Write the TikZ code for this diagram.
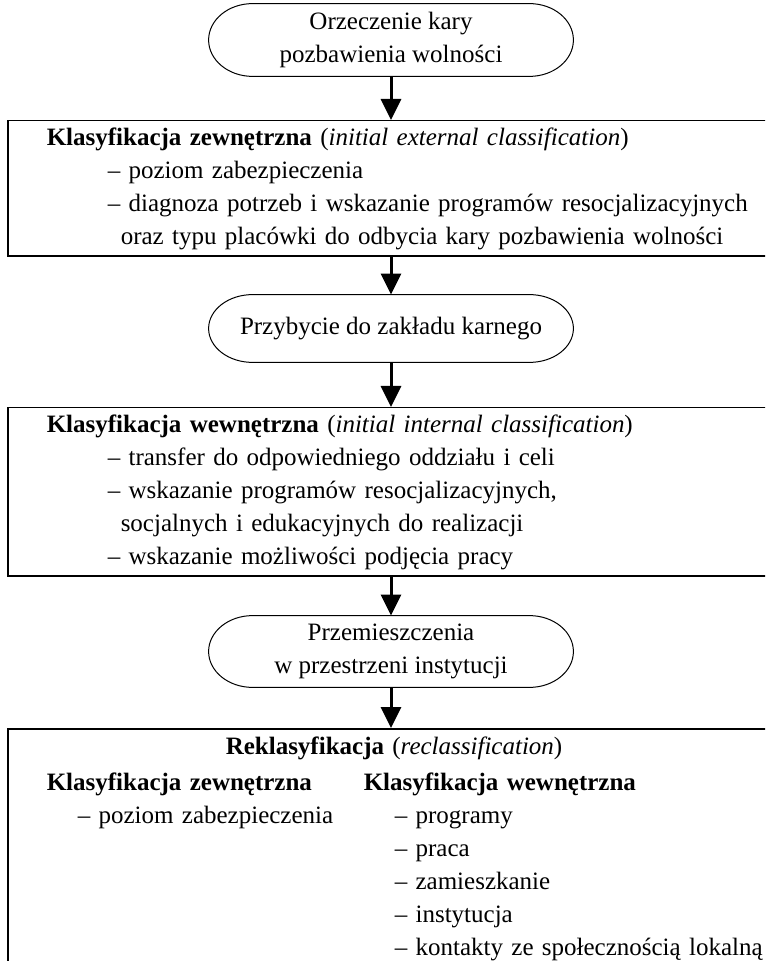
\documentclass[tikz,border=0pt]{standalone}
\usepackage{fontspec}
\setmainfont{Liberation Serif}
\usepackage{tikz}
\usetikzlibrary{calc, arrows.meta}

\newcommand{\dashitem}[1]{\hspace*{30.5pt}– #1}
\newcommand{\dashcont}[1]{\hspace*{37pt}#1}
\newcommand{\colitem}[1]{\hspace*{15.5pt}– #1}
% Oval outline with half-elliptic ends round a node
\newcommand{\capsuleline}[1]{%
  \draw[line width=0.5pt] let \p1=(#1.north), \p2=(#1.south), \n1={(\y1-\y2)/2} in
    ([xshift=22pt]#1.north west) -- ([xshift=-22pt]#1.north east)
    arc[start angle=90, end angle=-90, x radius=22pt, y radius=\n1]
    -- ([xshift=22pt]#1.south west)
    arc[start angle=270, end angle=90, x radius=22pt, y radius=\n1] -- cycle;}

\begin{document}
\begin{tikzpicture}[x=0.5pt, y=0.5pt,
    font=\fontsize{12.5}{16.5}\selectfont,
    capsule/.style={rectangle, minimum width=182pt, minimum height=36pt,
      align=center, inner sep=2pt},
    stagebox/.style={draw, line width=0.75pt, rectangle, anchor=north west,
      text width=360pt, inner xsep=19.5pt, align=left},
    flow/.style={-{Triangle[width=10pt,length=10.5pt]}, line width=1.5pt}]

    % Page frame, cropped on the right and at the bottom
    \useasboundingbox (0,0) rectangle (765,-961);
    \clip (0,0) rectangle (765,-961);

    % Sentence
    \node[capsule] (sentence) at (391,-40) {Orzeczenie kary\\pozbawienia wolności};
    \capsuleline{sentence}

    % External classification
    \node[stagebox, minimum height=67.5pt] (extcls) at (7,-120) {%
      \textbf{Klasyfikacja zewnętrzna} (\textit{initial external classification})\\
      \dashitem{poziom zabezpieczenia}\\
      \dashitem{diagnoza potrzeb i wskazanie programów resocjalizacyjnych}\\
      \dashcont{oraz typu placówki do odbycia kary pozbawienia wolności}};

    % Arrival
    \node[capsule, minimum height=33.5pt] (arrival) at (391,-328.5) {Przybycie do zakładu karnego};
    \capsuleline{arrival}

    % Internal classification
    \node[stagebox, minimum height=84pt] (intcls) at (7,-407) {%
      \textbf{Klasyfikacja wewnętrzna} (\textit{initial internal classification})\\
      \dashitem{transfer do odpowiedniego oddziału i celi}\\
      \dashitem{wskazanie programów resocjalizacyjnych,}\\
      \dashcont{socjalnych i edukacyjnych do realizacji}\\
      \dashitem{wskazanie możliwości podjęcia pracy}};

    % Movements
    \node[capsule, minimum height=35.5pt] (moves) at (391,-651.5) {Przemieszczenia\\w przestrzeni instytucji};
    \capsuleline{moves}

    % Reclassification
    \node[stagebox, minimum height=122pt] (recls) at (7,-728) {%
      \hspace*{89.5pt}\textbf{Reklasyfikacja} (\textit{reclassification})\\[1.5pt]
      \begin{tabular}[t]{@{}p{158.5pt}@{}l@{}}
        \textbf{Klasyfikacja zewnętrzna} & \textbf{Klasyfikacja wewnętrzna}\\
        \colitem{poziom zabezpieczenia} & \colitem{programy}\\
        & \colitem{praca}\\
        & \colitem{zamieszkanie}\\
        & \colitem{instytucja}\\
        & \colitem{kontakty ze społecznością lokalną}
      \end{tabular}};

    % Arrows between stages
    \draw[flow] (sentence.south) -- (sentence.south |- extcls.north);
    \draw[flow] (arrival.north |- extcls.south) -- (arrival.north);
    \draw[flow] (arrival.south) -- (arrival.south |- intcls.north);
    \draw[flow] (moves.north |- intcls.south) -- (moves.north);
    \draw[flow] (moves.south) -- (moves.south |- recls.north);
\end{tikzpicture}
\end{document}
